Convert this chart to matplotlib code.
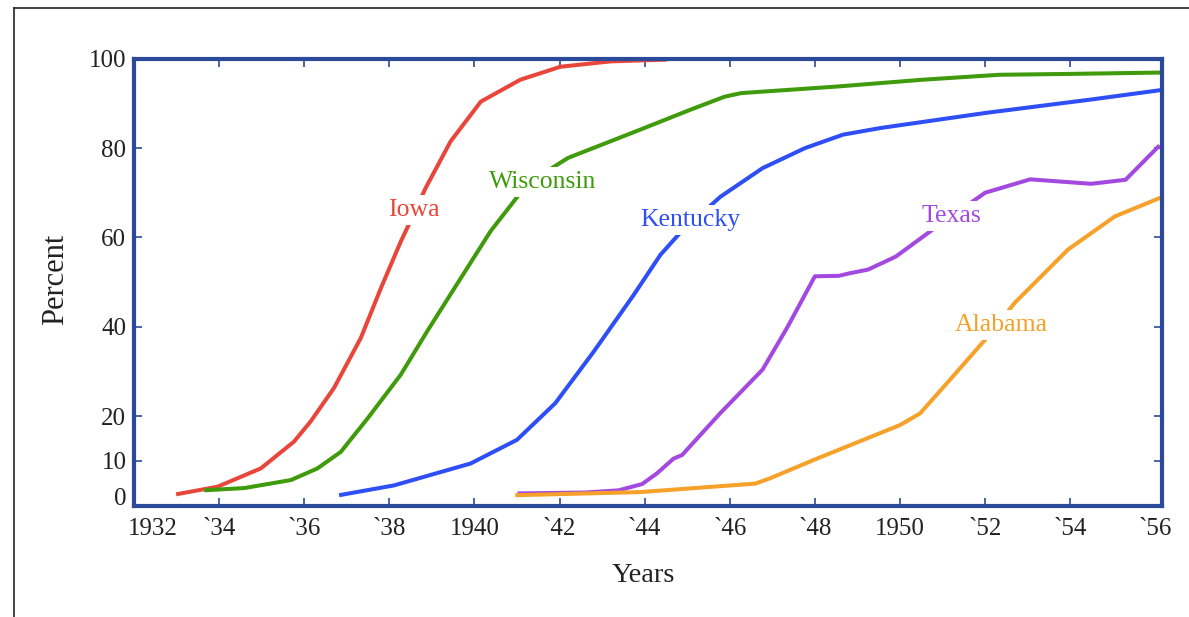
import matplotlib
matplotlib.use("Agg")
import matplotlib.pyplot as plt
from matplotlib.lines import Line2D

plt.rcParams['font.family'] = ['Liberation Serif', 'DejaVu Serif']

# ---------------- data ----------------
iowa_years = [1932.99, 1933.96, 1934.98, 1935.76, 1936.15, 1936.70, 1937.33, 1937.80,
              1938.27, 1938.46, 1938.85, 1939.44, 1940.15, 1941.08, 1942.02, 1943.2, 1944.53]
iowa_vals = [2.5, 4.2, 8.3, 14.3, 18.8, 26.3, 37.5, 48.6,
             59.1, 62.9, 71.0, 81.5, 90.4, 95.3, 98.2, 99.4, 99.8]

wisconsin_years = [1933.65, 1934.59, 1935.69, 1936.31, 1936.86, 1937.49, 1938.27, 1938.89,
                   1939.68, 1940.38, 1941.05, 1941.6, 1942.2, 1943.89, 1945.08, 1945.88,
                   1946.27, 1948.56, 1950.54, 1952.33, 1954.0, 1956.15]
wisconsin_vals = [3.4, 3.9, 5.7, 8.3, 12.0, 19.5, 29.3, 39.0,
                  50.9, 61.4, 69.6, 74.2, 77.8, 84.1, 88.6, 91.5,
                  92.3, 93.8, 95.3, 96.4, 96.6, 96.9]

kentucky_years = [1936.82, 1938.11, 1939.91, 1941.0, 1941.9, 1942.8, 1943.74, 1944.37,
                  1944.85, 1945.78, 1946.77, 1947.77, 1948.66, 1949.55, 1952.04, 1954.52, 1956.15]
kentucky_vals = [2.3, 4.5, 9.4, 14.7, 22.9, 34.4, 47.1, 56.1,
                 61.2, 69.1, 75.5, 80.0, 83.0, 84.5, 87.9, 90.9, 93.0]

texas_years = [1941.01, 1942.6, 1943.39, 1943.94, 1944.29, 1944.68, 1944.88, 1945.78,
               1946.77, 1947.36, 1948.0, 1948.56, 1948.83, 1949.25, 1949.9, 1950.76,
               1952.0, 1953.06, 1954.49, 1955.3, 1956.1]
texas_vals = [2.7, 2.9, 3.4, 4.8, 7.2, 10.5, 11.3, 20.7,
              30.4, 40.0, 51.3, 51.4, 52.0, 52.8, 55.7, 61.7,
              70.0, 73.0, 72.0, 72.9, 80.6]

alabama_years = [1940.96, 1943.89, 1946.6, 1946.95, 1948.05, 1950.0, 1950.47, 1951.17,
                 1952.0, 1952.7, 1953.95, 1955.05, 1956.15]
alabama_vals = [2.3, 3.0, 4.9, 6.1, 10.5, 18.0, 20.6, 28.1,
                37.1, 45.4, 57.3, 64.7, 69.0]

states = ['Iowa', 'Wisconsin', 'Kentucky', 'Texas', 'Alabama']
label_pos = {'Iowa': (1938.57, 64.8), 'Wisconsin': (1941.6, 71.1),
             'Kentucky': (1945.08, 62.6), 'Texas': (1951.22, 63.5),
             'Alabama': (1952.37, 39.1)}

x_ticks = [1932, 1934, 1936, 1938, 1940, 1942, 1944, 1946, 1948, 1950, 1952, 1954, 1956]
x_labels = ['1932', '`34', '`36', '`38', '1940', '`42', '`44', '`46', '`48',
            '1950', '`52', '`54', '`56']
y_ticks = [0, 10, 20, 40, 60, 80, 100]
y_labels = ['0', '10', '20', '40', '60', '80', '100']

# ---------------- style ----------------
colors = {'Iowa': '#e9463b', 'Wisconsin': '#3f9b0b', 'Kentucky': '#2d4ff5',
          'Texas': '#a349e0', 'Alabama': '#f5a12a'}
series = {'Iowa': (iowa_years, iowa_vals), 'Wisconsin': (wisconsin_years, wisconsin_vals),
          'Kentucky': (kentucky_years, kentucky_vals), 'Texas': (texas_years, texas_vals),
          'Alabama': (alabama_years, alabama_vals)}
spine_color = '#2c4a9a'
text_color = '#222222'

W, H = 1189, 617
fig = plt.figure(figsize=(W / 100, H / 100), dpi=100)
left, right, top, bottom = 134, 1161.7, 58.7, 505.5
ax = fig.add_axes([left / W, 1 - bottom / H, (right - left) / W, (bottom - top) / H])

for s in states:
    xs, ys = series[s]
    ax.plot(xs, ys, color=colors[s], lw=2.9, solid_capstyle='butt',
            solid_joinstyle='round', zorder=2)
    lx, ly = label_pos[s]
    ax.text(lx, ly, s, color=colors[s], fontsize=18.5, ha='center', va='baseline',
            zorder=3, bbox=dict(facecolor='white', edgecolor='none', pad=3))

ax.set_xlim(1932, 1956.15)
ax.set_ylim(0, 100)

ax.set_xticks(x_ticks)
ax.set_xticklabels([''] + x_labels[1:])
ax.set_yticks(y_ticks)
ax.set_yticklabels([''] + y_labels[1:])

ax.tick_params(axis='both', direction='in', length=6, width=1.2, color=spine_color,
               top=True, right=True, labelsize=18, labelcolor=text_color)
ax.tick_params(axis='x', pad=9)
ax.tick_params(axis='y', pad=5.5)

# hide tick marks that sit on the frame
for t in (ax.xaxis.get_major_ticks()[0], ax.xaxis.get_major_ticks()[-1]):
    t.tick1line.set_visible(False)
    t.tick2line.set_visible(False)

ax.annotate('1932', xy=(1932, 0), xycoords=('data', 'axes fraction'),
            xytext=(13.5, -9), textcoords='offset points', ha='center', va='top',
            fontsize=18, color=text_color, annotation_clip=False)
ax.annotate('0', xy=(0, 0), xycoords=('axes fraction', 'data'),
            xytext=(-5.5, 5), textcoords='offset points', ha='right', va='center',
            fontsize=18, color=text_color, annotation_clip=False)

for sp in ax.spines.values():
    sp.set_color(spine_color)
    sp.set_linewidth(3.0)

fig.text(643 / W, 1 - 582 / H, 'Years', fontsize=20.5, color=text_color,
         ha='center', va='baseline')
fig.text(56 / W, 1 - 279.5 / H, 'Percent', fontsize=22, color=text_color,
         ha='center', va='center', rotation=90)

# page border
fig.add_artist(Line2D([13.5 / W, 13.5 / W], [0, 1 - 7.5 / H], color='#222222', lw=1.2,
                      transform=fig.transFigure))
fig.add_artist(Line2D([13.5 / W, 1], [1 - 7.5 / H, 1 - 7.5 / H], color='#222222', lw=1.2,
                      transform=fig.transFigure))

fig.savefig('out.png', dpi=100, facecolor='white')
